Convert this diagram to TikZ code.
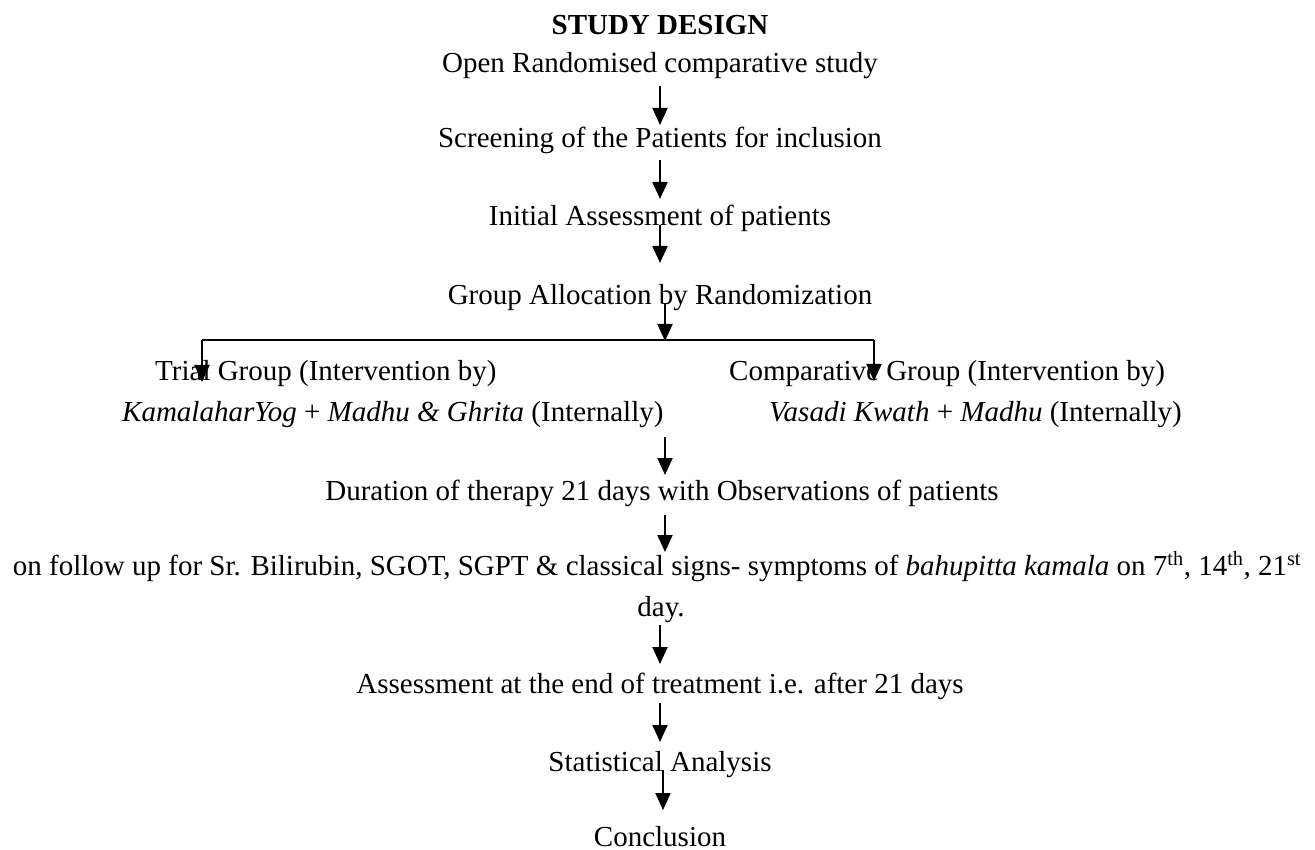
\documentclass[tikz,border=0pt]{standalone}
\usepackage{fontspec}
\setmainfont{Liberation Serif}
\usetikzlibrary{arrows.meta}
\tikzset{
  txt/.style={inner sep=0pt, anchor=base, font=\fontsize{29}{34}\selectfont},
  ltxt/.style={txt, anchor=base west},
  arr/.style={line width=2pt, -{Triangle[length=17pt,width=15pt]}},
  ln/.style={line width=2pt}
}
\begin{document}
\begin{tikzpicture}[x=1pt,y=-1pt]
\useasboundingbox (0,0) rectangle (1315,850);
\node[txt, font=\fontsize{29}{34}\selectfont\bfseries] (title) at (660,35) {STUDY DESIGN};
\node[txt] (open) at (660,73) {Open Randomised comparative study};
\node[txt] (screen) at (660,148) {Screening of the Patients for inclusion};
\node[txt] (init) at (660,226) {Initial Assessment of patients};
\node[txt] (alloc) at (660,305) {Group Allocation by Randomization};
\node[ltxt] (trial1) at (155,381) {Trial Group (Intervention by)};
\node[ltxt] (trial2) at (122,421) {\textit{KamalaharYog} + \textit{Madhu \& Ghrita} (Internally)};
\node[ltxt] (comp1) at (729,381) {Comparative Group (Intervention by)};
\node[ltxt] (comp2) at (769,421) {\textit{Vasadi Kwath} + \textit{Madhu} (Internally)};
\node[txt] (dur) at (662,500) {Duration of therapy 21 days with Observations of patients};
\node[txt] (follow) at (657,575) {on follow up for Sr. Bilirubin, SGOT, SGPT \& classical signs- symptoms of \textit{bahupitta kamala} on 7\textsuperscript{th}, 14\textsuperscript{th}, 21\textsuperscript{st}};
\node[txt] (day) at (661,616) {day.};
\node[txt] (assess) at (660,693) {Assessment at the end of treatment i.e. after 21 days};
\node[txt] (stat) at (660,771) {Statistical Analysis};
\node[txt] (concl) at (660,846) {Conclusion};
% connector end points
\coordinate (a1s) at (660,86);  \coordinate (a1e) at (660,125);
\coordinate (a2s) at (660,160); \coordinate (a2e) at (660,199);
\coordinate (a3s) at (660,225); \coordinate (a3e) at (660,263);
\coordinate (a4s) at (665,303); \coordinate (a4e) at (665,341);
\coordinate (bl) at (202,340);  \coordinate (br) at (874,340);
\coordinate (ble) at (202,382); \coordinate (bre) at (874,381);
\coordinate (a5s) at (665,437); \coordinate (a5e) at (665,475);
\coordinate (a6s) at (665,515); \coordinate (a6e) at (665,552);
\coordinate (a7s) at (660,625); \coordinate (a7e) at (660,664);
\coordinate (a8s) at (660,703); \coordinate (a8e) at (660,742);
\coordinate (a9s) at (663,770); \coordinate (a9e) at (663,810);
\draw[arr] (a1s) -- (a1e);
\draw[arr] (a2s) -- (a2e);
\draw[arr] (a3s) -- (a3e);
\draw[arr] (a4s) -- (a4e);
\draw[ln] (bl) -- (br);
\draw[arr] (bl) -- (ble);
\draw[arr] (br) -- (bre);
\draw[arr] (a5s) -- (a5e);
\draw[arr] (a6s) -- (a6e);
\draw[arr] (a7s) -- (a7e);
\draw[arr] (a8s) -- (a8e);
\draw[arr] (a9s) -- (a9e);
\end{tikzpicture}
\end{document}
